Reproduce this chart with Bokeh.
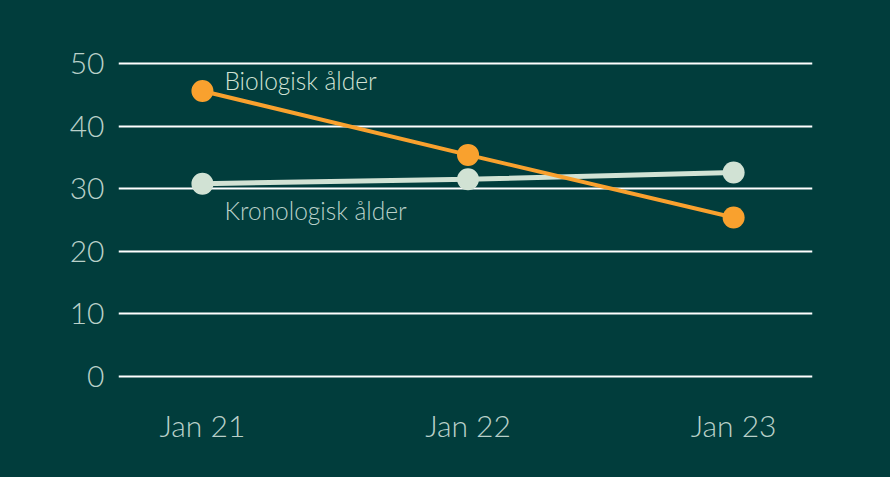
from bokeh.plotting import figure
from bokeh.models import Range1d, FixedTicker, Label
from bokeh.embed import file_html
from bokeh.resources import INLINE

categories = ["Jan 21", "Jan 22", "Jan 23"]
biologisk = [45.6, 35.4, 25.4]
kronologisk = [30.8, 31.5, 32.6]
y_ticks = [0, 10, 20, 30, 40, 50]

BG = "#013d3c"
ORANGE = "#f9a12e"
LIGHT = "#d1e2d4"
TEXT = "#b9d0c9"
FONT = "Lato Light, Lato"

xs = list(range(len(categories)))

p = figure(width=890, height=477, output_backend="svg", toolbar_location=None,
           x_range=Range1d(-0.316, 2.297), y_range=Range1d(-3.83, 53.67),
           min_border_left=118, min_border_right=78, min_border_top=40, min_border_bottom=77)
p.background_fill_color = None
p.border_fill_color = None
p.outline_line_color = None

p.xgrid.grid_line_color = None
p.ygrid.grid_line_color = "white"
p.ygrid.grid_line_width = 2
p.ygrid.ticker = FixedTicker(ticks=y_ticks)

p.yaxis.ticker = FixedTicker(ticks=y_ticks)
p.xaxis.ticker = FixedTicker(ticks=xs)
p.xaxis.major_label_overrides = {i: c for i, c in enumerate(categories)}
for ax in (p.xaxis, p.yaxis):
    ax.axis_line_color = None
    ax.major_tick_line_color = None
    ax.minor_tick_line_color = None
    ax.major_label_text_color = TEXT
    ax.major_label_text_font = FONT
    ax.major_label_text_font_size = "30px"
p.yaxis.major_label_standoff = 8
p.xaxis.major_label_standoff = 0

p.line(xs, kronologisk, line_color=LIGHT, line_width=5)
p.scatter(xs, kronologisk, size=22, fill_color=LIGHT, line_color=None)
p.line(xs, biologisk, line_color=ORANGE, line_width=4)
p.scatter(xs, biologisk, size=22, fill_color=ORANGE, line_color=None)

p.add_layout(Label(x=xs[0], y=biologisk[0], x_offset=22, y_offset=-4, text="Biologisk ålder",
                   text_color=LIGHT, text_font=FONT, text_font_size="24.5px",
                   text_baseline="bottom"))
p.add_layout(Label(x=xs[0], y=kronologisk[0], x_offset=22, y_offset=-12, text="Kronologisk ålder",
                   text_color=TEXT, text_font=FONT, text_font_size="24.5px",
                   text_baseline="top"))

html = file_html(p, INLINE)
html = html.replace("</head>", "<style>html, body { background: %s; }</style>\n</head>" % BG, 1)
open("out.html", "w").write(html)
